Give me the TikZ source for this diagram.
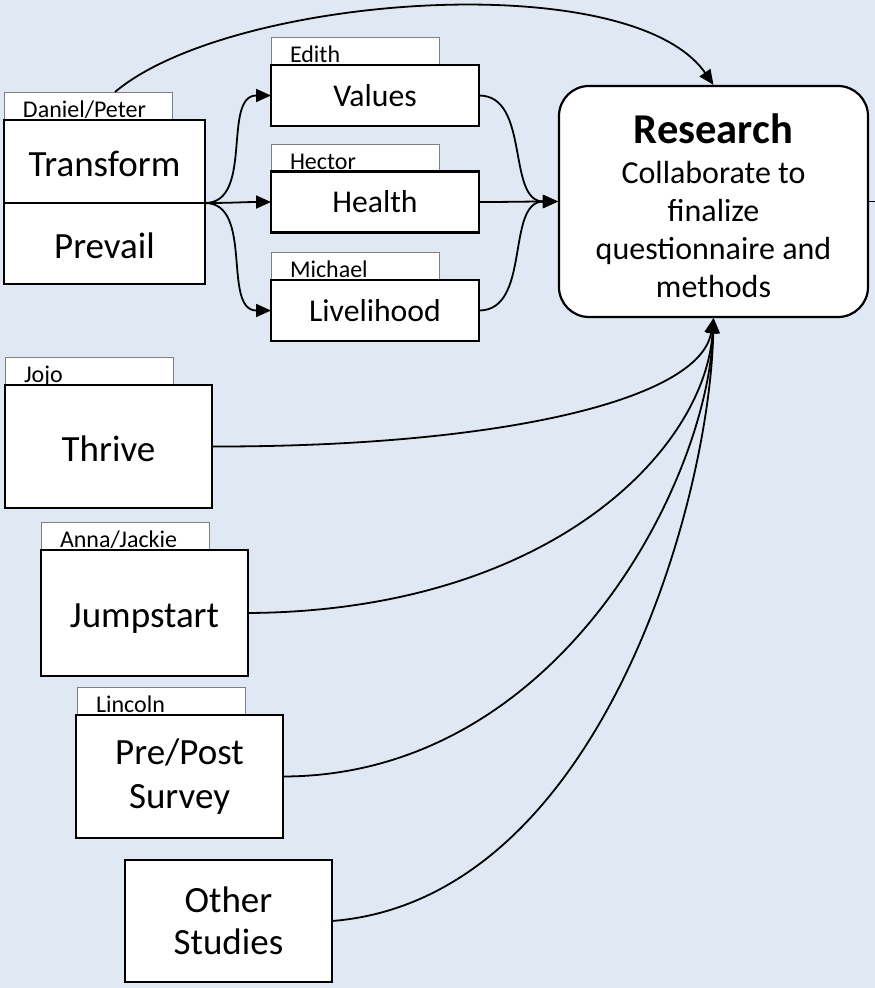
\documentclass[tikz,border=0pt]{standalone}
\usepackage{fontspec}
\setmainfont{Carlito}
\usetikzlibrary{arrows.meta}
\definecolor{bg}{HTML}{E0E8F3}
\definecolor{tabline}{HTML}{7F7F7F}
\begin{document}
\begin{tikzpicture}[x=1pt,y=-1pt,
  box/.style={draw=black,fill=white,line width=2.8pt,inner sep=0pt,outer sep=0pt,align=center,
    minimum width=207pt,font=\fontsize{37}{44}\selectfont},
  oneline/.style={text height=30pt,text depth=0pt},
  subbox/.style={draw=black,fill=white,line width=2.4pt,inner sep=0pt,outer sep=0pt,
    minimum width=208pt,minimum height=61pt,font=\fontsize{31.7}{37}\selectfont},
  tabbox/.style={draw=tabline,fill=white,line width=0.9pt,anchor=south west,inner xsep=19pt,
    inner ysep=3pt,text height=22pt,text depth=0pt,text width=130pt,align=left,
    font=\fontsize{24}{28}\selectfont,outer sep=0pt},
  conn/.style={line width=1.8pt},
  arr/.style={-{Triangle[length=15pt,width=13pt]}}
]
\useasboundingbox (0,0) rectangle (875,988);
\fill[bg] (0,0) rectangle (875,988);

% top-left group
\node[tabbox] (dp) at (4,120) {Daniel/Peter};
\node[box,oneline,minimum width=201pt,minimum height=83pt] (transform) at (104.5,161.5) {Transform};
\node[box,oneline,minimum width=201pt,minimum height=81pt] (prevail) at (104.5,243.5) {Prevail};

% sub-programmes
\node[tabbox] (edith) at (271,65) {Edith};
\node[subbox] (values) at (375,95.5) {Values};
\node[tabbox] (hector) at (271,172) {Hector};
\node[subbox] (health) at (375,202) {Health};
\node[tabbox] (michael) at (271,280) {Michael};
\node[subbox] (livelihood) at (375,310.5) {Livelihood};

% research
\node[draw=black,fill=white,line width=2.2pt,rounded corners=30pt,minimum width=309pt,
  minimum height=231pt,inner sep=0pt,align=center,font=\fontsize{32}{38}\selectfont]
  (R) at (713.5,201.5)
  {{\fontsize{42.5}{46}\selectfont\bfseries\rule{0pt}{39pt}Research}\\[2pt]
   Collaborate to\\ finalize\\ questionnaire and\\ methods};

% lower studies
\node[tabbox] (jojo) at (5,385) {Jojo};
\node[box,oneline,minimum height=123pt] (thrive) at (108.5,446.5) {Thrive};
\node[tabbox] (anna) at (41,550) {Anna/Jackie};
\node[box,text height=28pt,text depth=0pt,minimum height=126pt] (jump) at (144.5,613) {Jumpstart};
\node[tabbox] (lincoln) at (77,715) {Lincoln};
\node[box,minimum height=123pt] (prepost) at (179.5,776.5) {Pre/Post\\[0pt]Survey};
\node[box,minimum height=122pt] (other) at (228.5,921) {Other\\[-2pt]Studies};

% connectors
\draw[conn,arr] ([xshift=27pt]dp.north) .. controls (230,-5) and (630,-35) .. (R.north);
\draw[conn,arr] (transform.south east) to[out=0,in=180] (values.west);
\draw[conn,arr] (transform.south east) to[out=0,in=180] (health.west);
\draw[conn,arr] (transform.south east) to[out=0,in=180] (livelihood.west);
\draw[conn,arr] (values.east) to[out=0,in=180] (R.west);
\draw[conn,arr] (health.east) to[out=0,in=180] (R.west);
\draw[conn,arr] (livelihood.east) to[out=0,in=180] (R.west);
\coordinate (rout) at (875,201.5);
\draw[conn] (R.east) -- (rout);

\draw[conn,arr] (thrive.east) .. controls (500,447) and (700,400) .. (R.south);
\draw[conn,arr] (jump.east) .. controls (550,611) and (705,450) .. (R.south);
\draw[conn,arr] (prepost.east) .. controls (560,776) and (708,480) .. (R.south);
\draw[conn,arr] (other.east) .. controls (600,900) and (710,500) .. (R.south);
\end{tikzpicture}
\end{document}
